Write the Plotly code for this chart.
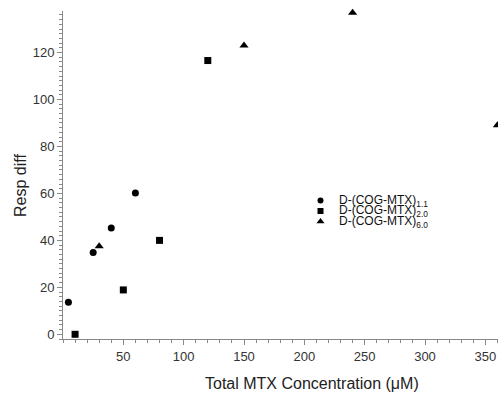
import plotly.graph_objects as go

# Data
series_names = ["D-(COG-MTX)<sub>1.1</sub>", "D-(COG-MTX)<sub>2.0</sub>", "D-(COG-MTX)<sub>6.0</sub>"]
series_symbols = ["circle", "square", "triangle-up"]
series_sizes = [7, 7, 8]

x_11 = [4.5, 25, 40, 60]
y_11 = [13.6, 34.8, 45.3, 60.2]

x_20 = [10, 50, 80, 120]
y_20 = [0, 18.9, 40, 116.6]

x_60 = [30, 150, 240, 360]
y_60 = [37.5, 123, 137, 89]

x_ticks = [50, 100, 150, 200, 250, 300, 350]
y_ticks = [0, 20, 40, 60, 80, 100, 120]

xs = [x_11, x_20, x_60]
ys = [y_11, y_20, y_60]

W, H = 498, 397
ml, mr, mt, mb = 63, 0, 11, 58
pw, ph = W - ml - mr, H - mt - mb


def px_to_paper(px, py):
    return (px - ml) / pw, (H - mb - py) / ph


fig = go.Figure()
for name, sym, sz, xv, yv in zip(series_names, series_symbols, series_sizes, xs, ys):
    fig.add_trace(go.Scatter(
        x=xv, y=yv, mode="markers", name=name,
        marker=dict(symbol=sym, size=sz, color="black", line=dict(width=0)),
        cliponaxis=False, showlegend=False,
    ))

# Custom compact legend (markers on an overlay axis in pixel units, text as annotations)
leg_x = 320.5
leg_text_x = 337
leg_rows = [200.5, 211, 221.5]
for name, sym, sz, ry in zip(series_names, series_symbols, series_sizes, leg_rows):
    fig.add_trace(go.Scatter(
        x=[leg_x], y=[ry], mode="markers", xaxis="x2", yaxis="y2",
        marker=dict(symbol=sym, size=sz - 1, color="black", line=dict(width=0)),
        showlegend=False, hoverinfo="skip", cliponaxis=False,
    ))
    tx, ty = px_to_paper(leg_text_x, ry)
    fig.add_annotation(
        x=tx, y=ty, xref="paper", yref="paper", text=name, showarrow=False,
        xanchor="left", yanchor="middle",
        font=dict(family="Liberation Sans, Arial, sans-serif", size=12, color="#111"),
    )

axis_font = dict(family="Liberation Sans, Arial, sans-serif", size=13, color="#333")

fig.update_layout(
    width=W, height=H,
    margin=dict(l=ml, r=mr, t=mt, b=mb, pad=0),
    paper_bgcolor="white", plot_bgcolor="white",
    showlegend=False,
    font=axis_font,
    xaxis=dict(
        range=[0, 360.5], tickvals=x_ticks, ticks="outside", ticklen=5, tickwidth=1,
        tickcolor="#888", showline=True, linecolor="#888", linewidth=1,
        showgrid=False, zeroline=False, tickfont=axis_font,
        minor=dict(dtick=10, tick0=0, ticks="outside", ticklen=3, tickcolor="#888", showgrid=False),
    ),
    yaxis=dict(
        range=[-2, 137.7], tickvals=y_ticks, ticks="outside", ticklen=5, tickwidth=1,
        tickcolor="#888", showline=True, linecolor="#888", linewidth=1,
        showgrid=False, zeroline=False, tickfont=axis_font,
        minor=dict(dtick=2, tick0=0, ticks="outside", ticklen=3, tickcolor="#888", showgrid=False),
    ),
    xaxis2=dict(overlaying="x", range=[ml, W - mr], visible=False, fixedrange=True),
    yaxis2=dict(overlaying="y", range=[H - mb, mt], visible=False, fixedrange=True),
)

title_font = dict(family="Liberation Sans, Arial, sans-serif", size=16, color="#222")
ax_, ay_ = px_to_paper(312, 383)
fig.add_annotation(
    x=ax_, y=ay_, xref="paper", yref="paper", text="Total MTX Concentration (μM)",
    showarrow=False, xanchor="center", yanchor="middle", font=title_font,
)
bx_, by_ = px_to_paper(21, 186)
fig.add_annotation(
    x=bx_, y=by_, xref="paper", yref="paper", text="Resp diff", textangle=-90,
    showarrow=False, xanchor="center", yanchor="middle", font=title_font,
)

fig.write_html(
    "out.html",
    config={"displayModeBar": False},
    post_script="document.body.style.margin='0';document.body.style.padding='0';document.body.style.overflow='hidden';",
)
